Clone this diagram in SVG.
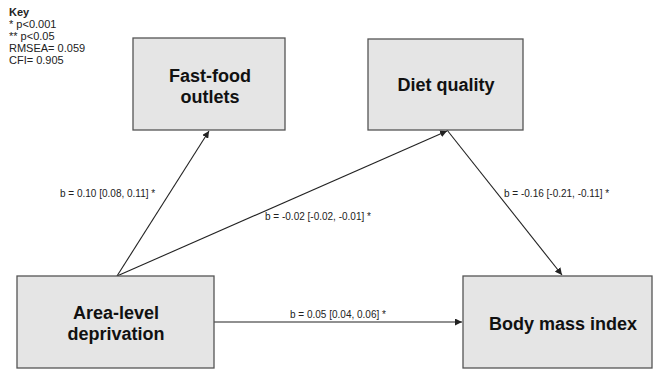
<svg xmlns="http://www.w3.org/2000/svg" width="657" height="369" viewBox="0 0 657 369">
<style>
.box{fill:#e5e5e5;stroke:#555;stroke-width:1.3}
.nt{font-family:"Liberation Sans",Arial,sans-serif;font-weight:bold;font-size:18px;fill:#111;text-anchor:middle}
.lb{font-family:"Liberation Sans",Arial,sans-serif;font-size:10px;fill:#222}
.key{font-family:"Liberation Sans",Arial,sans-serif;font-size:11px;fill:#222}
.edge{stroke:#222;stroke-width:1.1;fill:none;marker-end:url(#ah)}
</style>
<defs>
<marker id="ah" viewBox="0 0 10 10" refX="10" refY="5" markerWidth="7" markerHeight="7" markerUnits="userSpaceOnUse" orient="auto">
<path d="M0,0 L10,5 L0,10 z" fill="#222"/>
</marker>
</defs>
<rect width="657" height="369" fill="#fff"/>
<g id="key">
<text class="key" x="9" y="16" font-weight="bold">Key</text>
<text class="key" x="9" y="28">* p&lt;0.001</text>
<text class="key" x="9" y="40">** p&lt;0.05</text>
<text class="key" x="9" y="52">RMSEA= 0.059</text>
<text class="key" x="9" y="64">CFI= 0.905</text>
</g>
<g id="connectors">
<line class="edge" x1="117" y1="276" x2="209" y2="131"/>
<line class="edge" x1="117" y1="276" x2="447" y2="131"/>
<line class="edge" x1="447" y1="130" x2="562" y2="275"/>
<line class="edge" x1="214" y1="322" x2="462" y2="322"/>
<text class="lb" x="60" y="197">b = 0.10 [0.08, 0.11] *</text>
<text class="lb" x="265" y="220">b = -0.02 [-0.02, -0.01] *</text>
<text class="lb" x="504" y="197">b = -0.16 [-0.21, -0.11] *</text>
<text class="lb" x="290" y="318">b = 0.05 [0.04, 0.06] *</text>
</g>
<g id="fastfood">
<rect class="box" x="133" y="38" width="152" height="92"/>
<text class="nt" x="210" y="82">Fast-food</text>
<text class="nt" x="210" y="103">outlets</text>
</g>
<g id="diet">
<rect class="box" x="368" y="39" width="155" height="91"/>
<text class="nt" x="446" y="91">Diet quality</text>
</g>
<g id="deprivation">
<rect class="box" x="17" y="276" width="197" height="92"/>
<text class="nt" x="116" y="319">Area-level</text>
<text class="nt" x="116" y="340">deprivation</text>
</g>
<g id="bmi">
<rect class="box" x="463" y="276" width="189" height="92"/>
<text class="nt" x="563" y="330">Body mass index</text>
</g>
</svg>
